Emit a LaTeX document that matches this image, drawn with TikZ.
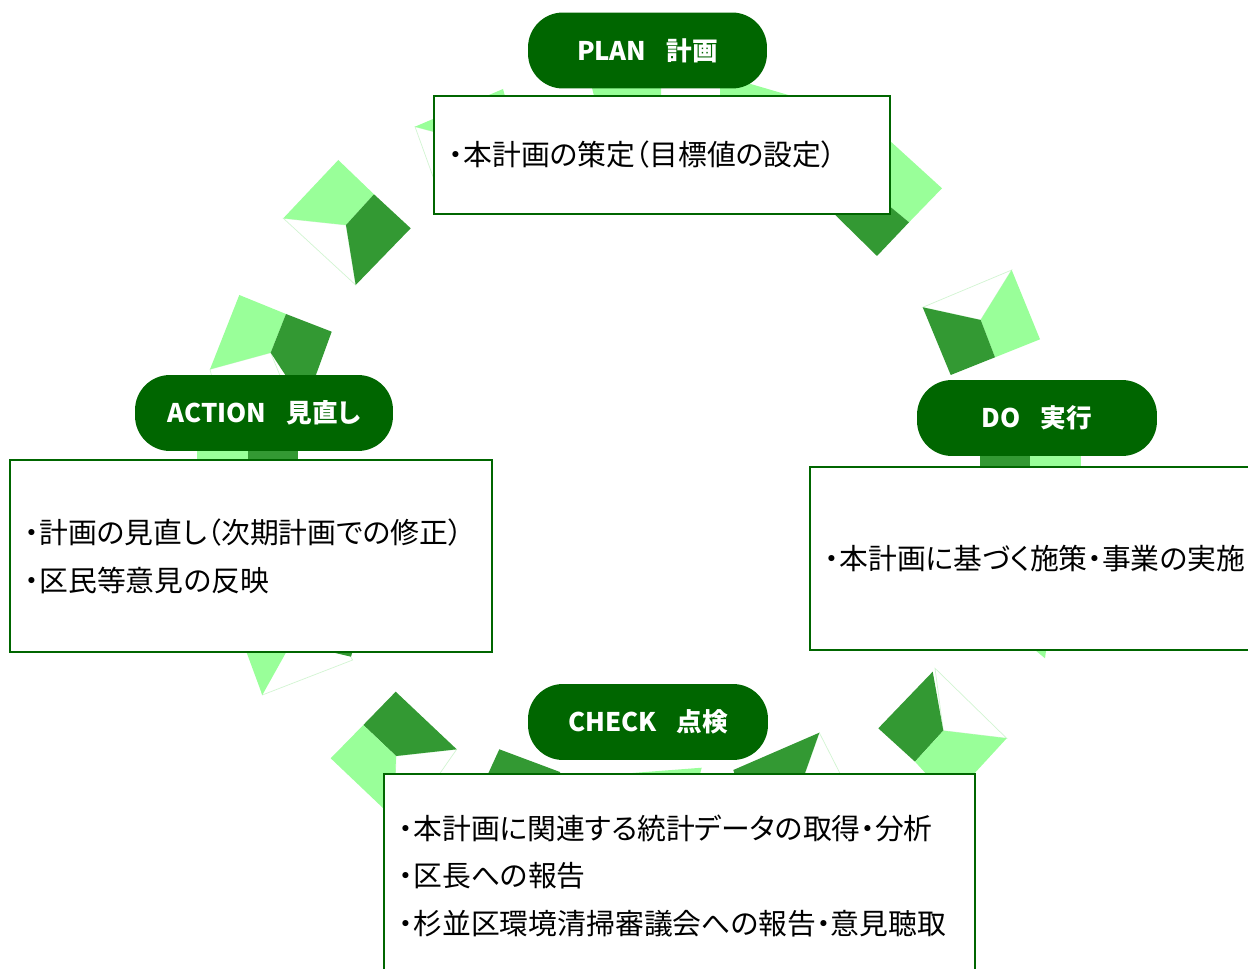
\documentclass[tikz,border=0pt]{standalone}
\usepackage{fontspec}
\setmainfont{Noto Sans CJK JP}[RawFeature=+palt]
\usepackage{xcolor}
\usepackage{tikz}
\definecolor{pdcadeep}{HTML}{006600}
\definecolor{facelite}{HTML}{99FF99}
\definecolor{facedark}{HTML}{339933}
\definecolor{faceedge}{HTML}{D2F5D2}
\tikzset{
  pill/.style  = {rectangle, rounded corners=0.7cm, fill=pdcadeep, text=white,
                  minimum height=1.52cm, inner sep=0pt,
                  font=\fontsize{14.6}{18}\selectfont\bfseries},
  note/.style  = {rectangle, draw=pdcadeep, line width=1.1pt, fill=white, align=left,
                  inner xsep=0.3cm, inner ysep=0pt,
                  font=\fontsize{16.4}{27.3}\selectfont},
  lite/.style  = {fill=facelite},
  dark/.style  = {fill=facedark},
  blank/.style = {fill=white, draw=faceedge, line width=0.4pt}
}
\newcommand{\gap}{\hspace{0.78em}}
\begin{document}
\begin{tikzpicture}[x=0.02cm, y=-0.02cm]
  \useasboundingbox (0,0) rectangle (1248,969);
  % white faces
  \path[blank] (283.3,218.3) -- (346,225) -- (355.7,285) -- cycle;
  \path[blank] (415,126.7) -- (480,144) -- (460,200) -- (440,196) -- cycle;
  \path[blank] (922.7,307.3) -- (1011.7,270) -- (980.7,320) -- cycle;
  \path[blank] (935,668.3) -- (1006.7,738.3) -- (943.3,730.7) -- cycle;
  \path[blank] (819.3,732.7) -- (850,793) -- (799,790) -- cycle;
  \path[blank] (396,756) -- (456.7,749.3) -- (420,802) -- (394,818.5) -- cycle;
  \path[blank] (262.3,695) -- (352.7,660) -- (340,640) -- (250,640) -- cycle;
  \path[blank] (210,369.3) -- (270.7,352.7) -- (290,400) -- (215,390) -- cycle;
  % coloured faces
  \path[lite] (338.3,160) -- (374,194.3) -- (346,225) -- (283.3,218.3) -- cycle;
  \path[dark] (374,194.3) -- (410.7,228.3) -- (355.7,285) -- (346,225) -- cycle;
  \path[lite] (415,126.7) -- (503,89) -- (506,100) -- (480,144) -- cycle;
  \path[lite] (591,84) -- (661,84) -- (661,100) -- (595,100) -- cycle;
  \path[lite] (720,75) -- (790,95.5) -- (790,110) -- (720,110) -- cycle;
  \path[lite] (860,113.6) -- (942,188.3) -- (909,222.3) -- (870,190) -- cycle;
  \path[dark] (870,190) -- (909,222.3) -- (877,256) -- (820,200) -- cycle;
  \path[lite] (1011.7,270) -- (1040,339.3) -- (995,357.3) -- (980.7,320) -- cycle;
  \path[dark] (980.7,320) -- (995,357.3) -- (950.7,375) -- (922.7,307.3) -- cycle;
  \path[dark] (980,440) -- (1030,440) -- (1030,480) -- (980,480) -- cycle;
  \path[lite] (1030,440) -- (1081,440) -- (1081,480) -- (1030,480) -- cycle;
  \path[lite] (1023,640) -- (1047.5,640) -- (1045,658.3) -- cycle;
  \path[dark] (932.7,671.7) -- (943.3,730.7) -- (915,761.7) -- (878.3,728.3) -- cycle;
  \path[lite] (943.3,730.7) -- (1006.7,738.3) -- (950,800) -- (915,761.7) -- cycle;
  \path[dark] (733.3,770) -- (819.3,732.7) -- (799,790) -- (740,790) -- cycle;
  \path[lite] (600,775.5) -- (701.7,767.7) -- (696,790) -- (600,790) -- cycle;
  \path[dark] (499.3,749.3) -- (560,772) -- (560,790) -- (480.7,790) -- cycle;
  \path[dark] (395.7,691.7) -- (456.7,749.3) -- (396,756) -- (363.3,725) -- cycle;
  \path[lite] (363.3,725) -- (396,756) -- (394,818.5) -- (330.7,758.3) -- cycle;
  \path[lite] (242,640) -- (293,640) -- (262.3,695) -- cycle;
  \path[dark] (280,640) -- (356,640) -- (351,656.7) -- cycle;
  \path[lite] (197,440) -- (248,440) -- (248,470) -- (197,470) -- cycle;
  \path[dark] (248,440) -- (298,440) -- (298,470) -- (248,470) -- cycle;
  \path[lite] (239.3,295) -- (286,314) -- (270.7,352.7) -- (210,369.3) -- cycle;
  \path[dark] (286,314) -- (331.7,331.7) -- (305,405) -- (270.7,352.7) -- cycle;
  % labels and notes
  \node[pill, minimum width=4.78cm] (plan) at (647.5,50.5) {PLAN\gap 計画};
  \node[note, text width=8.52cm, minimum height=2.36cm] (plannote) at (662,155)
    {・本計画の策定（目標値の設定）};
  \node[pill, minimum width=4.8cm] (do) at (1037,418) {DO\gap 実行};
  \node[note, text width=8.44cm, minimum height=3.66cm] (donote) at (1036,558.5)
    {・本計画に基づく施策・事業の実施};
  \node[pill, minimum width=5.16cm] (act) at (264,413) {ACTION\gap 見直し};
  \node[note, text width=9.04cm, minimum height=3.84cm] (actnote) at (251,556)
    {・計画の見直し（次期計画での修正）\\・区民等意見の反映};
  \node[pill, minimum width=4.8cm] (chk) at (648,722) {CHECK\gap 点検};
  \node[note, text width=11.22cm, minimum height=4.08cm] (chknote) at (679.5,876)
    {・本計画に関連する統計データの取得・分析\\・区長への報告\\・杉並区環境清掃審議会への報告・意見聴取};
\end{tikzpicture}
\end{document}
